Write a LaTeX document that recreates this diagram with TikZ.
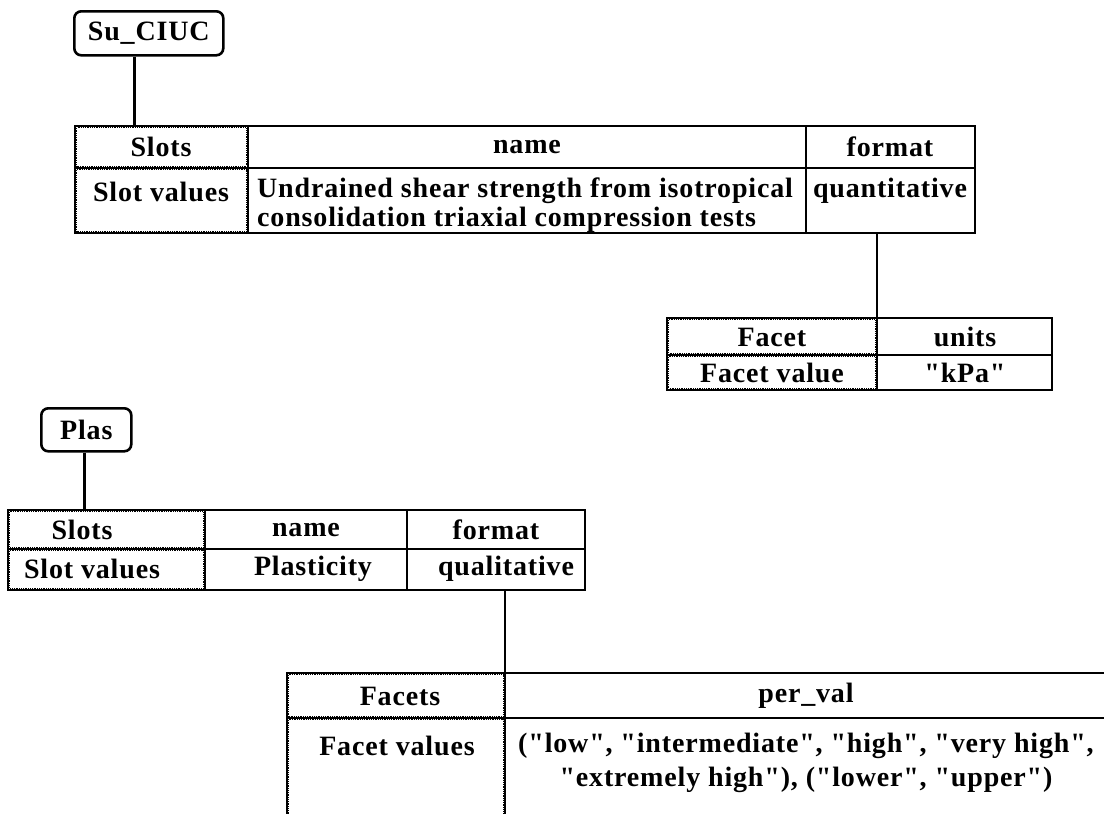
\documentclass[tikz,border=0pt]{standalone}
\usepackage{fontspec}
\newfontfamily\tabfam{Liberation Serif}[LetterSpace=3]
\newcommand\tabfont{\tabfam\bfseries\fontsize{28}{29}\selectfont}
\newcommand\wideleadfont{\tabfam\bfseries\fontsize{28}{34}\selectfont}
\begin{document}
\begin{tikzpicture}[x=1pt,y=-1pt,
  tag/.style={draw, line width=2.6pt, rounded corners=7pt, inner sep=0pt,
    anchor=north west, font=\tabfont},
  cell/.style={draw, line width=2.4pt, anchor=north west, inner sep=0pt, outer sep=0pt},
  txt/.style={font=\tabfont, inner sep=0pt},
  fringe/.style={densely dotted, line width=0.8pt},
  link/.style={line width=2.6pt}]
\useasboundingbox (0,0) rectangle (1104,814);

% ---- frame Su_CIUC ----
\node[tag, minimum width=149pt, minimum height=44pt] (su) at (73,10) {Su\_CIUC};

\node[cell, minimum width=173pt, minimum height=42pt] (t1s)  at (75,126)  {};
\node[cell, minimum width=558pt, minimum height=42pt] (t1n)  at (248,126) {};
\node[cell, minimum width=169pt, minimum height=42pt] (t1f)  at (806,126) {};
\node[cell, minimum width=173pt, minimum height=65pt] (t1sv) at (75,168)  {};
\node[cell, minimum width=558pt, minimum height=65pt] (t1nv) at (248,168) {};
\node[cell, minimum width=169pt, minimum height=65pt] (t1fv) at (806,168) {};

\node[txt] (t1s-l)  at (161,147) {Slots};
\node[txt] (t1n-l)  at (527,147) {name};
\node[txt] (t1f-l)  at (890,147) {format};
\node[txt] (t1sv-l) at (161,192) {Slot values};
\node[txt, align=left, anchor=west] (t1nv-l) at (257,205)
  {Undrained shear strength from isotropical\\consolidation triaxial compression tests};
\node[txt] (t1fv-l) at (890,191) {quantitative};

\coordinate (su-foot) at ([xshift=-14.5pt]su.south);
\draw[link] (su-foot) -- (su-foot |- t1s.north);

% facet of the format slot
\node[cell, minimum width=210pt, minimum height=37pt] (f1k)  at (667,318) {};
\node[cell, minimum width=175pt, minimum height=37pt] (f1v)  at (877,318) {};
\node[cell, minimum width=210pt, minimum height=35pt] (f1kv) at (667,355) {};
\node[cell, minimum width=175pt, minimum height=35pt] (f1vv) at (877,355) {};

\node[txt] (f1k-l)  at (772,337) {Facet};
\node[txt] (f1v-l)  at (965,337) {units};
\node[txt] (f1kv-l) at (772,373) {Facet value};
\node[txt] (f1vv-l) at (965,373) {"kPa"};

\draw[link] (f1k.north east |- t1fv.south) -- (f1k.north east);

% ---- frame Plas ----
\node[tag, minimum width=90pt, minimum height=43pt] (plas) at (40,407) {Plas};

\node[cell, minimum width=197pt, minimum height=39pt] (t2s)  at (8,510)   {};
\node[cell, minimum width=202pt, minimum height=39pt] (t2n)  at (205,510) {};
\node[cell, minimum width=178pt, minimum height=39pt] (t2f)  at (407,510) {};
\node[cell, minimum width=197pt, minimum height=41pt] (t2sv) at (8,549)   {};
\node[cell, minimum width=202pt, minimum height=41pt] (t2nv) at (205,549) {};
\node[cell, minimum width=178pt, minimum height=41pt] (t2fv) at (407,549) {};

\node[txt] (t2s-l)  at (82,530)  {Slots};
\node[txt] (t2n-l)  at (306,530) {name};
\node[txt] (t2f-l)  at (496,530) {format};
\node[txt] (t2sv-l) at (92,569)  {Slot values};
\node[txt] (t2nv-l) at (313,569) {Plasticity};
\node[txt] (t2fv-l) at (506,569) {qualitative};

\coordinate (plas-foot) at ([xshift=-2pt]plas.south);
\draw[link] (plas-foot) -- (plas-foot |- t2s.north);

% facet of the format slot
\node[cell, minimum width=218pt, minimum height=45pt] (f2k)  at (287,673) {};
\node[cell, minimum width=602pt, minimum height=45pt] (f2v)  at (505,673) {};
\node[cell, minimum width=218pt, minimum height=98pt] (f2kv) at (287,718) {};
\node[cell, minimum width=602pt, minimum height=98pt] (f2vv) at (505,718) {};

\node[txt] (f2k-l)  at (400,696) {Facets};
\node[txt] (f2v-l)  at (806,696) {per\_val};
\node[txt] (f2kv-l) at (397,746) {Facet values};
\node[txt, align=center, font=\wideleadfont] (f2vv-l) at (806,763)
  {("low", "intermediate", "high", "very high",\\"extremely high"), ("lower", "upper")};

\draw[link] (f2k.north east |- t2fv.south) -- (f2k.north east);

% stippled inner edge of the key cells
\foreach \c in {t1s,t1sv,f1k,f1kv,t2s,t2sv,f2k,f2kv}
  \draw[fringe] ([shift={(1.8pt,-1.8pt)}]\c.north west) rectangle ([shift={(-1.8pt,1.8pt)}]\c.south east);
\end{tikzpicture}
\end{document}
